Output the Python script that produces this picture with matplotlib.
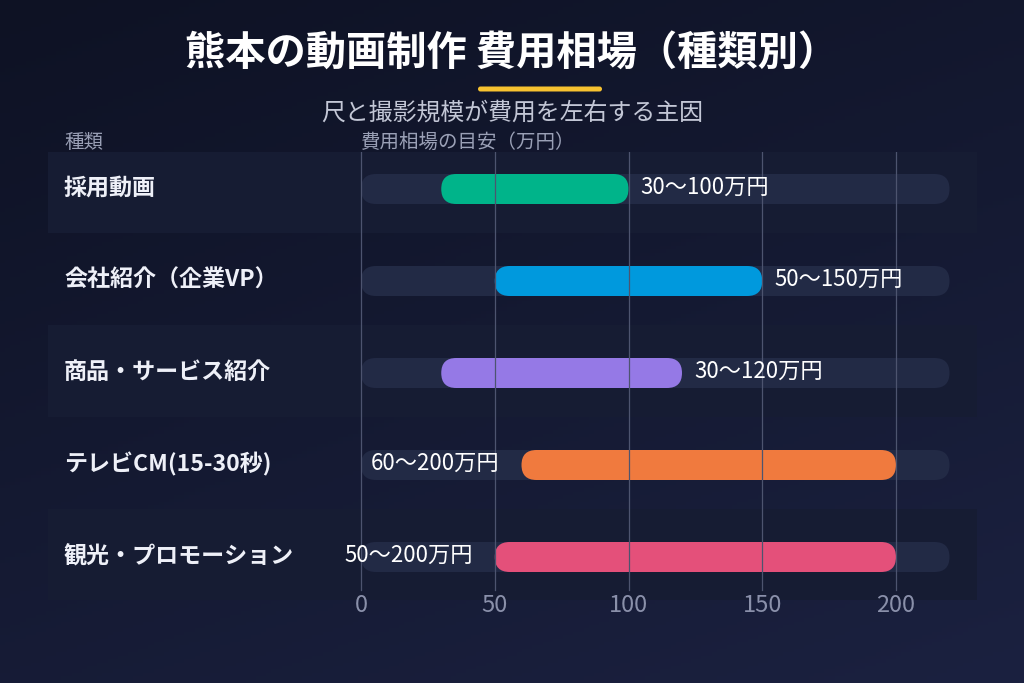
import numpy as np
import matplotlib
matplotlib.use("Agg")
import matplotlib.pyplot as plt
from matplotlib.patches import FancyBboxPatch, Rectangle
import matplotlib.transforms as mtransforms

plt.rcParams['font.family'] = ['Noto Sans CJK JP', 'DejaVu Sans']

# ---- data ----
categories = ["採用動画", "会社紹介（企業VP）", "商品・サービス紹介", "テレビCM(15-30秒)", "観光・プロモーション"]
low_values = [30, 50, 30, 60, 50]
high_values = [100, 150, 120, 200, 200]
value_labels = ["30〜100万円", "50〜150万円", "30〜120万円", "60〜200万円", "50〜200万円"]
bar_colors = ["#00b48a", "#0099dd", "#9579e6", "#f07a3e", "#e4507a"]
tick_values = [0, 50, 100, 150, 200]
track_max = 220

title = "熊本の動画制作 費用相場（種類別）"
subtitle = "尺と撮影規模が費用を左右する主因"
col_header_left = "種類"
col_header_right = "費用相場の目安（万円）"

W, H = 1024, 683
fig = plt.figure(figsize=(W / 100, H / 100), dpi=100)

# background gradient
bg = fig.add_axes([0, 0, 1, 1], zorder=-10)
yy, xx = np.mgrid[0:1:200j, 0:1:200j]
t = np.clip(0.65 * yy + 0.35 * xx, 0, 1)
c0 = np.array([0x0e, 0x12, 0x24]) / 255
c1 = np.array([0x1b, 0x21, 0x40]) / 255
img = c0[None, None, :] * (1 - t[..., None]) + c1[None, None, :] * t[..., None]
bg.imshow(img, extent=[0, 1, 0, 1], aspect='auto', origin='upper')
bg.set_axis_off()

# plot axes: pixel geometry
px_left, px_right = 48, 977
px_top, px_bot = 152, 600
x0_px, x200_px = 361, 896
ppu = (x200_px - x0_px) / 200.0
row0_px, row_step = 189, 92

ax = fig.add_axes([px_left / W, 1 - px_bot / H, (px_right - px_left) / W, (px_bot - px_top) / H])
ax.set_facecolor('none')
ax.set_xlim((px_left - x0_px) / ppu, (px_right - x0_px) / ppu)
ax.set_ylim((px_bot - row0_px) / row_step, (px_top - row0_px) / row_step)
for s in ax.spines.values():
    s.set_visible(False)
ax.set_yticks([])

# bands
n = len(categories)
for i in range(n):
    if i % 2 == 0:
        ax.add_patch(Rectangle((ax.get_xlim()[0], i - 0.52), ax.get_xlim()[1] - ax.get_xlim()[0], 1.0,
                               facecolor="#161c33", edgecolor='none', zorder=0))

# grid lines
grid_bottom = (590 - row0_px) / row_step
for v in tick_values:
    ax.plot([v, v], [ax.get_ylim()[1], grid_bottom], color="#4d546f", lw=0.9, zorder=3)

bar_h_px = 30
bar_h = bar_h_px / row_step
rad_x = (bar_h_px / 2) / ppu
aspect = (1 / row_step) / (1 / ppu)


def pill(x_start, x_end, y, color, z):
    p = FancyBboxPatch((x_start, y - bar_h / 2), x_end - x_start, bar_h,
                       boxstyle=f"round,pad=0,rounding_size={rad_x}",
                       mutation_aspect=aspect, facecolor=color, edgecolor='none', zorder=z)
    ax.add_patch(p)


for i in range(n):
    pill(0, track_max, i, "#222a45", 1)
    pill(low_values[i], high_values[i], i, bar_colors[i], 2)
    if high_values[i] >= 200:
        ax.text(low_values[i] - 8.2, i - 0.02, value_labels[i], ha='right', va='center',
                color='white', fontsize=16, zorder=5)
    else:
        ax.text(high_values[i] + 4.5, i - 0.02, value_labels[i], ha='left', va='center',
                color='white', fontsize=16, zorder=5)

# row labels
trans = mtransforms.blended_transform_factory(fig.transFigure, ax.transData)
for i, c in enumerate(categories):
    ax.text(64 / W, i - 0.005, c, transform=trans, ha='left', va='center',
            color='#eef0f8', fontsize=16.6, fontweight='bold', zorder=5)

ax.set_xticks(tick_values)
ax.set_xticklabels([str(v) for v in tick_values])
ax.tick_params(axis='x', length=0, pad=-4, labelsize=17, labelcolor="#8a90aa")

# titles
fig.text(0.5, 1 - 53 / H, title, ha='center', va='center', color='white',
         fontsize=29, fontweight='bold')
ul = FancyBboxPatch((478 / W, 1 - 91.5 / H), 124 / W, 5 / H,
                    boxstyle="round,pad=0,rounding_size=0.0024",
                    mutation_aspect=W / H, transform=fig.transFigure,
                    facecolor="#f7c230", edgecolor='none')
fig.patches.append(ul)
fig.text(0.5, 1 - 113 / H, subtitle, ha='center', va='center', color='#c3c7d6', fontsize=17.2)
fig.text(64 / W, 1 - 142 / H, col_header_left, ha='left', va='center', color='#9aa0b6', fontsize=14)
fig.text(361 / W, 1 - 142 / H, col_header_right, ha='left', va='center', color='#9aa0b6', fontsize=14)

fig.savefig("out.png", dpi=100, facecolor=fig.get_facecolor())
